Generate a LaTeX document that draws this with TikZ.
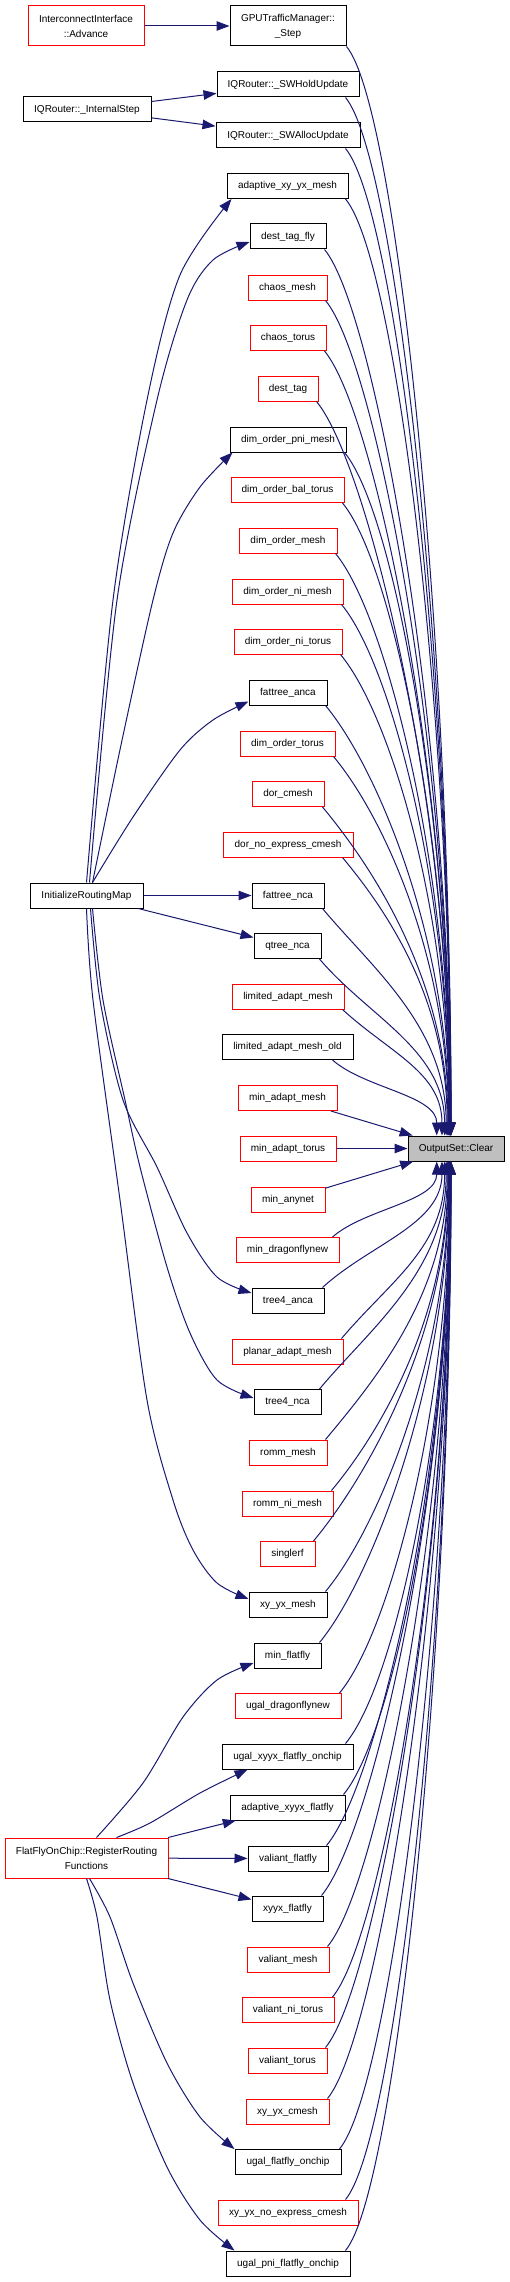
\documentclass[tikz,border=0pt]{standalone}
\usepackage{fontspec}
\setmainfont{Liberation Sans}
\usetikzlibrary{arrows.meta,calc}
\definecolor{edgeblue}{HTML}{191970}
\definecolor{nodegray}{HTML}{BFBFBF}
\begin{document}
\begin{tikzpicture}[x=1pt,y=-1pt,
  fn/.style={draw, rectangle, fill=white, line width=1pt, minimum height=25pt, inner sep=0pt, font=\fontsize{10}{12}\selectfont},
  one/.style={text height=7.2pt, text depth=2.1pt},
  blk/.style={fn, one, draw=black},
  rd/.style={fn, one, draw=red},
  blktwo/.style={fn, draw=black, minimum height=40pt, align=center, font=\fontsize{10}{15}\selectfont},
  rdtwo/.style={fn, draw=red, minimum height=40pt, align=center, font=\fontsize{10}{15}\selectfont},
  edge/.style={draw=edgeblue, line width=1pt, -{Triangle[length=13pt,width=9.5pt]}}
]
\useasboundingbox (0,0) rectangle (509,2282);

\node[rdtwo,minimum width=116pt] (adv) at (86,26) {InterconnectInterface\\::Advance};
\node[blktwo,minimum width=116pt] (step) at (288,26) {GPUTrafficManager::\\\_Step};
\node[blk,minimum width=142pt] (hold) at (288,84.5) {IQRouter::\_SWHoldUpdate};
\node[blk,minimum width=128pt] (ist) at (87,109.5) {IQRouter::\_InternalStep};
\node[blk,minimum width=144pt] (alloc) at (288,135.5) {IQRouter::\_SWAllocUpdate};
\node[blk,minimum width=121pt] (axym) at (287.5,186) {adaptive\_xy\_yx\_mesh};
\node[blk,minimum width=76pt] (dtf) at (288,236.5) {dest\_tag\_fly};
\node[rd,minimum width=79pt] (chm) at (287.5,287.5) {chaos\_mesh};
\node[rd,minimum width=76pt] (cht) at (288,338) {chaos\_torus};
\node[rd,minimum width=60pt] (dt) at (288,388.5) {dest\_tag};
\node[blk,minimum width=116pt] (dopm) at (288,439.5) {dim\_order\_pni\_mesh};
\node[rd,minimum width=113pt] (dobt) at (287.5,490) {dim\_order\_bal\_torus};
\node[rd,minimum width=98pt] (dom) at (288,540.5) {dim\_order\_mesh};
\node[rd,minimum width=111pt] (donm) at (287.5,591.5) {dim\_order\_ni\_mesh};
\node[rd,minimum width=108pt] (dont) at (288,641.5) {dim\_order\_ni\_torus};
\node[blk,minimum width=78pt] (fta) at (288,692.5) {fattree\_anca};
\node[rd,minimum width=95pt] (dot) at (287.5,743.5) {dim\_order\_torus};
\node[rd,minimum width=72pt] (dorc) at (288,794) {dor\_cmesh};
\node[rd,minimum width=130pt] (dnec) at (288,844.5) {dor\_no\_express\_cmesh};
\node[blk,minimum width=113pt] (irm) at (86.5,895.5) {InitializeRoutingMap};
\node[blk,minimum width=72pt] (ftn) at (288,895.5) {fattree\_nca};
\node[blk,minimum width=67pt] (qtn) at (287.5,946) {qtree\_nca};
\node[rd,minimum width=112pt] (lam) at (288,996.5) {limited\_adapt\_mesh};
\node[blk,minimum width=131pt] (lamo) at (287.5,1047) {limited\_adapt\_mesh\_old};
\node[rd,minimum width=99pt] (mam) at (287.5,1098) {min\_adapt\_mesh};
\node[rd,minimum width=96pt] (mat) at (288,1148.5) {min\_adapt\_torus};
\node[fn,one,draw=black,fill=nodegray,minimum width=96pt] (clear) at (456,1148.5) {OutputSet::Clear};
\node[rd,minimum width=74pt] (man) at (288,1199.5) {min\_anynet};
\node[rd,minimum width=103pt] (mdn) at (287.5,1250) {min\_dragonflynew};
\node[blk,minimum width=72pt] (t4a) at (288,1300.5) {tree4\_anca};
\node[rd,minimum width=111pt] (pam) at (287.5,1351.5) {planar\_adapt\_mesh};
\node[blk,minimum width=67pt] (t4n) at (287.5,1402) {tree4\_nca};
\node[rd,minimum width=78pt] (rm) at (288,1452.5) {romm\_mesh};
\node[rd,minimum width=91pt] (rnm) at (287.5,1503.5) {romm\_ni\_mesh};
\node[rd,minimum width=55pt] (srf) at (287.5,1554) {singlerf};
\node[blk,minimum width=78pt] (xyym) at (288,1604.5) {xy\_yx\_mesh};
\node[blk,minimum width=67pt] (mff) at (287.5,1655.5) {min\_flatfly};
\node[rd,minimum width=106pt] (udn) at (288,1706) {ugal\_dragonflynew};
\node[blk,minimum width=131pt] (uxfo) at (287.5,1756.5) {ugal\_xyyx\_flatfly\_onchip};
\node[blk,minimum width=115pt] (axf) at (287.5,1807.5) {adaptive\_xyyx\_flatfly};
\node[rdtwo,minimum width=163pt] (ffc) at (86.5,1858) {FlatFlyOnChip::RegisterRouting\\Functions};
\node[blk,minimum width=80pt] (vff) at (288,1858.5) {valiant\_flatfly};
\node[blk,minimum width=71pt] (xff) at (287.5,1908.5) {xyyx\_flatfly};
\node[rd,minimum width=82pt] (vm) at (288,1959.5) {valiant\_mesh};
\node[rd,minimum width=92pt] (vnt) at (288,2010) {valiant\_ni\_torus};
\node[rd,minimum width=79pt] (vt) at (287.5,2060.5) {valiant\_torus};
\node[rd,minimum width=83pt] (xyc) at (287.5,2111.5) {xy\_yx\_cmesh};
\node[blk,minimum width=106pt] (ufo) at (288,2162) {ugal\_flatfly\_onchip};
\node[rd,minimum width=140pt] (xnec) at (288,2212.5) {xy\_yx\_no\_express\_cmesh};
\node[blk,minimum width=124pt] (upfo) at (288,2263.5) {ugal\_pni\_flatfly\_onchip};

% fan into OutputSet::Clear from above
\foreach \nm/\yy/\sx in {step/26/0, hold/84.5/-14, alloc/135.5/-15, axym/186/-3, dtf/236.5/-2,
  chm/287.5/-2, cht/338/-2, dt/388.5/-2, dopm/439.5/-2, dobt/490/-2, dom/540.5/-2,
  donm/591.5/-2, dont/641.5/-2, fta/692.5/-2, dot/743.5/-2, dorc/794/-2, dnec/844.5/-11,
  ftn/895.5/-2, qtn/946/-2, lam/996.5/-2, lamo/1047/-21}{
  \pgfmathsetmacro\D{1148.5-\yy}
  \pgfmathsetmacro\xe{45-1600/\D}
  \pgfmathsetmacro\ca{min(50,0.3*\D+2)}
  \pgfmathsetmacro\cb{min(60,0.3*\D-2)}
  \pgfmathsetmacro\L{0.45*(\D-12)}
  \draw[edge] ($(\nm.south east)+(\sx,0)$) .. controls +(\ca,\cb) and +(0,-\L) .. ($(clear.north west)+(\xe,0)$);
}
% fan into OutputSet::Clear from below
\foreach \nm/\yy/\sx in {mdn/1250/-7, t4a/1300.5/-2, pam/1351.5/-2, t4n/1402/-2, rm/1452.5/-2,
  rnm/1503.5/-2, srf/1554/-2, xyym/1604.5/-2, mff/1655.5/-2, udn/1706/-2, uxfo/1756.5/-8,
  axf/1807.5/-2, vff/1858.5/-2, xff/1908.5/-2, vm/1959.5/-2, vnt/2010/-2, vt/2060.5/-2,
  xyc/2111.5/-2, ufo/2162/-2, xnec/2212.5/-13, upfo/2263.5/-5}{
  \pgfmathsetmacro\D{\yy-1148.5}
  \pgfmathsetmacro\xe{45-1600/\D}
  \pgfmathsetmacro\ca{min(50,0.3*\D+2)}
  \pgfmathsetmacro\cb{min(60,0.3*\D-2)}
  \pgfmathsetmacro\L{0.45*(\D-12)}
  \draw[edge] ($(\nm.north east)+(\sx,0)$) .. controls +(\ca,-\cb) and +(0,\L) .. ($(clear.south west)+(\xe,0)$);
}
\draw[edge] (mam) -- (clear);
\draw[edge] (mat) -- (clear);
\draw[edge] (man) -- (clear);

% simple straight connectors
\draw[edge] (adv) -- (step);
\draw[edge] (ist) -- (hold);
\draw[edge] (ist) -- (alloc);
\draw[edge] (irm) -- (ftn);
\draw[edge] (irm) -- (qtn);
\draw[edge] (ffc) -- (axf);
\draw[edge] (ffc) -- (vff);
\draw[edge] (ffc) -- (xff);

% curved connectors from InitializeRoutingMap
\draw[edge] plot[smooth] coordinates {(irm.north) (113,600) (147,400) (180,275) ([xshift=5pt]axym.south west)};
\draw[edge] plot[smooth] coordinates {([xshift=3pt]irm.north) (117,600) (157,400) (187,300) (213,260) ([yshift=-5.5pt]dtf.west)};
\draw[edge] plot[smooth] coordinates {([xshift=6pt]irm.north) (121,745) (153,600) (173,533) (200,487) ([xshift=3pt]dopm.south west)};
\draw[edge] plot[smooth] coordinates {([xshift=6pt]irm.north) (133,817) (180,750) (213,720) ([yshift=-9pt]fta.west)};
\draw[edge] plot[smooth] coordinates {([xshift=4pt]irm.south) (100,1000) (123,1100) (157,1167) (187,1233) (217,1277) ([yshift=7.5pt]t4a.west)};
\draw[edge] plot[smooth] coordinates {([xshift=6pt]irm.south) (103,1000) (125,1100) (140,1167) (167,1267) (190,1333) (217,1380) ([yshift=4pt]t4n.west)};
\draw[edge] plot[smooth] coordinates {(irm.south) (93,1000) (120,1200) (147,1400) (173,1500) (193,1550) (217,1583) ([yshift=5.5pt]xyym.west)};

% curved connectors from FlatFlyOnChip::RegisterRoutingFunctions
\draw[edge] plot[smooth] coordinates {([xshift=10pt]ffc.north) (143,1783) (183,1717) (217,1680) ([yshift=-7.5pt]mff.west)};
\draw[edge] plot[smooth] coordinates {([xshift=30pt]ffc.north) (150,1823) (200,1793) ([xshift=26pt]uxfo.south west)};
\draw[edge] plot[smooth] coordinates {([xshift=3pt]ffc.south) (110,1917) (133,1983) (167,2063) (200,2117) (ufo.north west)};
\draw[edge] plot[smooth] coordinates {(ffc.south) (97,1917) (110,2000) (133,2083) (167,2167) (200,2220) ([xshift=9pt]upfo.north west)};
\end{tikzpicture}
\end{document}
